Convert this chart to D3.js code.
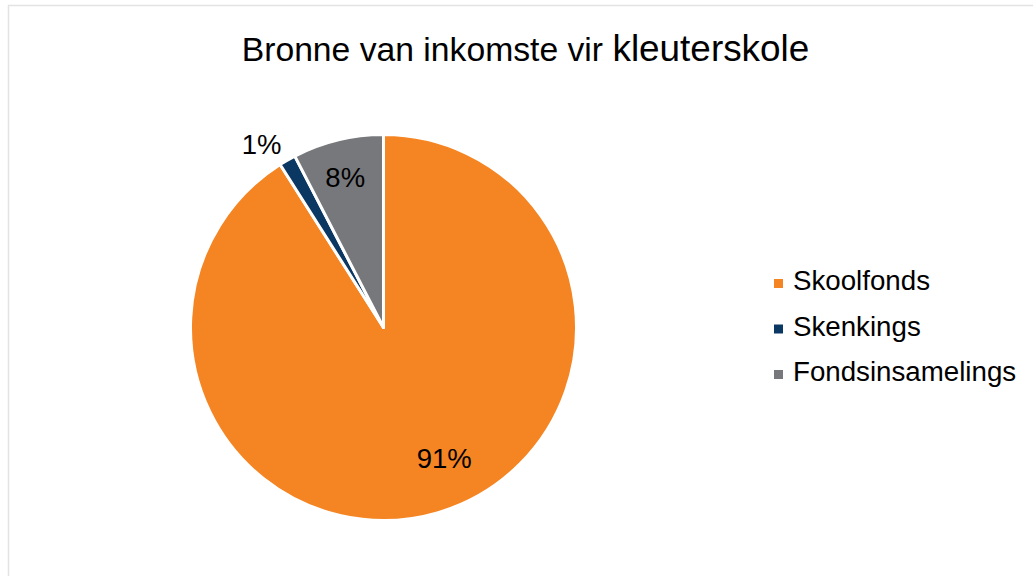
<!DOCTYPE html>
<html>
<head>
<meta charset="utf-8">
<script src="https://cdn.jsdelivr.net/npm/d3@7"></script>
<style>
  html, body { margin: 0; padding: 0; background: #ffffff; }
  svg { display: block; }
  text { font-family: "Liberation Sans", Arial, sans-serif; fill: #000; }
</style>
</head>
<body>
<svg id="chart" width="1033" height="576"></svg>
<script>
// ---- data ----
const categories = ["Skoolfonds", "Skenkings", "Fondsinsamelings"];
const values = [91.0, 1.4, 7.6];
const colors = ["#F58523", "#0B3862", "#77787B"];
const titleParts = ["Bronne van inkomste vir ", "kleuterskole"];

// ---- layout ----
const W = 1033, H = 576;
const cx = 383.5, cy = 327.5, R = 193;
// label placement (style): radius fraction and angle nudge in degrees
const labelRadius = [0.755, 1.15, 0.81];
const labelShift = [-8.6, -3.7, -0.6];

const svg = d3.select("#chart");

// frame
svg.append("rect")
  .attr("x", 8.5).attr("y", 5.5)
  .attr("width", 1100).attr("height", 700)
  .attr("fill", "none")
  .attr("stroke", "#E3E3E3")
  .attr("stroke-width", 1.5);

// title
const title = svg.append("text")
  .attr("x", 525.5).attr("y", 61)
  .attr("text-anchor", "middle");
title.append("tspan").attr("font-size", 33.7).text(titleParts[0]);
title.append("tspan").attr("font-size", 36.9).text(titleParts[1]);

// pie
const pie = d3.pie().sort(null).value(d => d);
const arcs = pie(values);
const arc = d3.arc().innerRadius(0).outerRadius(R);

const g = svg.append("g").attr("transform", `translate(${cx},${cy})`);
g.selectAll("path.slice")
  .data(arcs)
  .join("path")
  .attr("class", "slice")
  .attr("d", arc)
  .attr("fill", (d, i) => colors[i])
  .attr("stroke", "#ffffff")
  .attr("stroke-width", 3)
  .attr("stroke-linejoin", "round");

// labels
const fmt = v => Math.round(v) + "%";
g.selectAll("text.lbl")
  .data(arcs)
  .join("text")
  .attr("class", "lbl")
  .attr("text-anchor", "middle")
  .attr("dominant-baseline", "central")
  .attr("font-size", 27.5)
  .attr("transform", (d, i) => {
    const a = (d.startAngle + d.endAngle) / 2 + labelShift[i] * Math.PI / 180;
    const r = (R - 1.5) * labelRadius[i];
    return `translate(${r * Math.sin(a)},${-r * Math.cos(a)})`;
  })
  .text(d => fmt(d.data));

// legend
const legend = svg.append("g").attr("transform", "translate(774,0)");
const rowY = d3.scalePoint().domain(categories).range([290, 381]);
const items = legend.selectAll("g.item")
  .data(categories)
  .join("g")
  .attr("class", "item")
  .attr("transform", d => `translate(0,${rowY(d)})`);
items.append("rect")
  .attr("x", 0).attr("y", -11)
  .attr("width", 9).attr("height", 9)
  .attr("fill", (d, i) => colors[i]);
items.append("text")
  .attr("x", 19).attr("y", 0)
  .attr("font-size", 27.7)
  .text(d => d);
</script>
</body>
</html>
